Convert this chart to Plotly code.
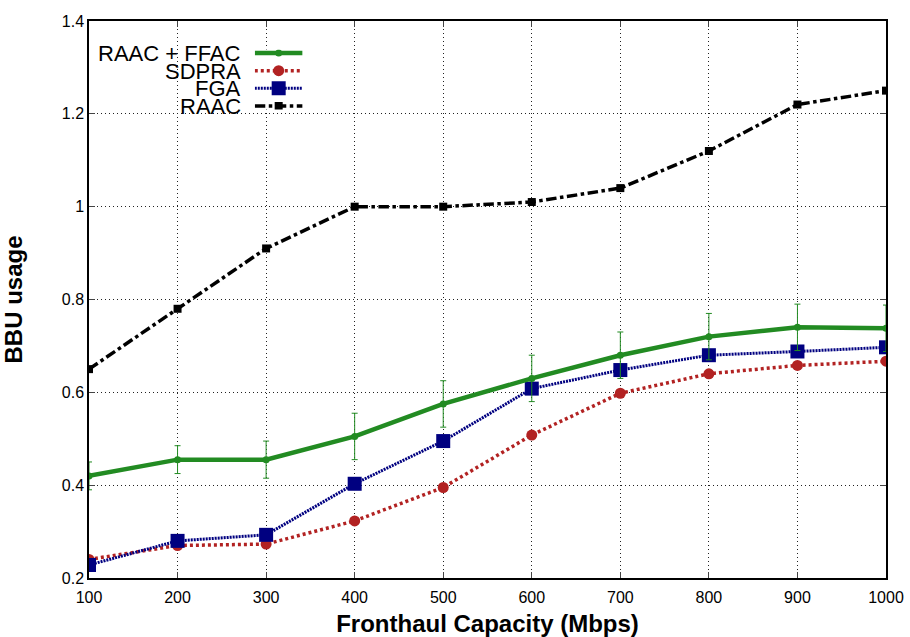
import plotly.graph_objects as go

capacity = [100, 200, 300, 400, 500, 600, 700, 800, 900, 1000]
raac_ffac = [0.42, 0.455, 0.455, 0.505, 0.575, 0.63, 0.68, 0.72, 0.74, 0.738]
raac_ffac_err = [0.03, 0.03, 0.04, 0.05, 0.05, 0.05, 0.05, 0.05, 0.05, 0.05]
sdpra = [0.24, 0.27, 0.273, 0.323, 0.395, 0.508, 0.598, 0.64, 0.658, 0.667]
fga = [0.228, 0.28, 0.293, 0.403, 0.495, 0.608, 0.648, 0.68, 0.688, 0.697]
raac = [0.65, 0.78, 0.91, 1.0, 1.0, 1.01, 1.04, 1.12, 1.22, 1.25]

names = ["RAAC + FFAC", "SDPRA", "FGA", "RAAC"]
colors = ["#228B22", "#B22222", "#000080", "#000000"]
dashes = ["solid", "3px,3px", "2px,1px", "dashdot"]
widths = [4.5, 3.5, 3, 3.5]
symbols = ["circle", "circle", "square", "square"]
msizes = [7, 11, 14, 8]
xticks = [100, 200, 300, 400, 500, 600, 700, 800, 900, 1000]
yticks = [0.2, 0.4, 0.6, 0.8, 1.0, 1.2, 1.4]
ytick_text = ["0.2", "0.4", "0.6", "0.8", "1", "1.2", "1.4"]

font = "Liberation Sans, Arial, sans-serif"
fig = go.Figure()
series = [raac_ffac, sdpra, fga, raac]
order = [3, 1, 2, 0]
for i in order:
    kw = {}
    if i == 0:
        kw["error_y"] = dict(type="data", array=raac_ffac_err, visible=True,
                             color=colors[0], thickness=1, width=3)
    fig.add_trace(go.Scatter(
        x=capacity, y=series[i], mode="lines+markers", name=names[i],
        line=dict(color=colors[i], width=widths[i], dash=dashes[i]),
        marker=dict(symbol=symbols[i], size=msizes[i], color=colors[i]),
        showlegend=False, **kw))

# custom legend (text left of sample), drawn on a helper axis
leg_x = [0.0, 0.5, 1.0]
leg_rows = [0.0, 1.0, 2.0, 3.0]
leg_text_y = [0.9425, 0.910, 0.878, 0.847]
for i in range(4):
    fig.add_trace(go.Scatter(
        x=leg_x, y=[leg_rows[i]] * 3, mode="lines", xaxis="x2", yaxis="y2",
        line=dict(color=colors[i], width=widths[i], dash=dashes[i]),
        showlegend=False, hoverinfo="skip"))
    fig.add_trace(go.Scatter(
        x=[leg_x[1]], y=[leg_rows[i]], mode="markers", xaxis="x2", yaxis="y2",
        marker=dict(symbol=symbols[i], size=msizes[i], color=colors[i]),
        showlegend=False, hoverinfo="skip"))
    fig.add_annotation(x=0.193, y=leg_text_y[i], xref="paper", yref="paper",
                       text=names[i], showarrow=False, xanchor="right",
                       yanchor="middle", font=dict(size=22, color="black", family=font))

fig.update_layout(
    width=910, height=637,
    margin=dict(l=89, r=24, t=21, b=59),
    plot_bgcolor="white", paper_bgcolor="white",
    font=dict(family=font, size=16, color="black"),
    xaxis=dict(range=[100, 1000], tickvals=xticks, ticks="inside", ticklen=6,
               showline=True, linecolor="black", linewidth=1.5, mirror="ticks",
               showgrid=True, gridcolor="#222222", griddash="1px,3px", gridwidth=1,
               zeroline=False, automargin=False, ticklabelstandoff=4,
               title=dict(text="<b>Fronthaul Capacity (Mbps)</b>", font=dict(size=24), standoff=12)),
    yaxis=dict(range=[0.2, 1.4], tickvals=yticks, ticktext=ytick_text, ticks="inside", ticklen=6,
               showline=True, linecolor="black", linewidth=1.5, mirror="ticks",
               showgrid=True, gridcolor="#222222", griddash="1px,3px", gridwidth=1,
               zeroline=False, automargin=False,
               title=dict(text="<b>BBU usage</b>", font=dict(size=24), standoff=32)),
    xaxis2=dict(domain=[0.208, 0.268], range=[0, 1], visible=False, anchor="y2"),
    yaxis2=dict(domain=[0.841, 0.949], range=[3.2, -0.2], visible=False, anchor="x2"),
)
fig.write_html("out.html")
